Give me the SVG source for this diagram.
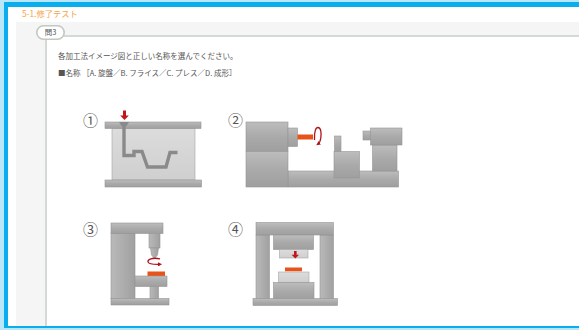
<svg xmlns="http://www.w3.org/2000/svg" width="579" height="330" viewBox="0 0 579 330">
  <style>
    .jp { font-family: "Noto Sans CJK JP", "Noto Sans", sans-serif; }
    .txt { fill: #555; font-size: 7.5px; }
    .num { fill: #555; font-size: 15px; }
    .metal { fill: url(#metalV); stroke: #959595; stroke-width: 0.6; }
    .metalH { fill: url(#metalH); stroke: #959595; stroke-width: 0.6; }
    .pale { fill: url(#paleV); stroke: #a5a5a5; stroke-width: 0.6; }
    .work { fill: #e8531a; }
    .red { fill: #c3151c; }
    .spin { fill: none; stroke: #b0141a; stroke-width: 1.3; }
  </style>
  <defs>
    <linearGradient id="metalV" x1="0" y1="0" x2="0" y2="1">
      <stop offset="0" stop-color="#bdbdbd"/>
      <stop offset="0.5" stop-color="#aaaaaa"/>
      <stop offset="1" stop-color="#9f9f9f"/>
    </linearGradient>
    <linearGradient id="metalH" x1="0" y1="0" x2="1" y2="0">
      <stop offset="0" stop-color="#b9b9b9"/>
      <stop offset="0.5" stop-color="#adadad"/>
      <stop offset="1" stop-color="#a0a0a0"/>
    </linearGradient>
    <linearGradient id="paleV" x1="0" y1="0" x2="0" y2="1">
      <stop offset="0" stop-color="#dcdcdc"/>
      <stop offset="1" stop-color="#cfcfcf"/>
    </linearGradient>
    <marker id="tip" viewBox="0 0 6 6" refX="3" refY="3" markerWidth="3.2" markerHeight="3.2" orient="auto">
      <path d="M0,0 L6,3 L0,6 Z" fill="#b0141a"/>
    </marker>
  </defs>

  <!-- page frame -->
  <rect x="0" y="0" width="579" height="330" fill="#b9e6f9"/>
  <rect x="4" y="2" width="575" height="326" fill="#0aaeef"/>
  <rect x="8" y="7" width="571" height="319" fill="#ffffff"/>

  <!-- heading -->
  <text class="jp" x="22" y="17" font-size="8.3" fill="#f7a446">5-1.修了テスト</text>

  <!-- question panel -->
  <g id="panel">
    <rect x="16" y="22" width="563" height="304" fill="#f5f5f5"/>
    <rect x="47" y="36" width="532" height="290" fill="#ffffff"/>
    <line x1="47" y1="36" x2="579" y2="36" stroke="#d5d9d5" stroke-width="2"/>
    <line x1="46" y1="36" x2="46" y2="326" stroke="#d5d9d5" stroke-width="2"/>
  </g>

  <g id="tab">
    <rect x="36.8" y="25.8" width="27.4" height="13.4" rx="6.7" fill="#ffffff" stroke="#c3c8c3" stroke-width="1.6"/>
    <text class="jp" x="50.5" y="35.2" font-size="7.4" fill="#555" text-anchor="middle">問3</text>
  </g>

  <g id="instructions">
    <text class="jp txt" x="58" y="58.5">各加工法イメージ図と正しい名称を選んでください。</text>
    <text class="jp txt" x="58" y="75.5">■名称 ［A. 旋盤／B. フライス／C. プレス／D. 成形］</text>
  </g>

  <!-- 1: moulding -->
  <g id="fig1">
    <text class="jp num" x="90.5" y="126" text-anchor="middle">①</text>
    <rect class="pale" x="112" y="128" width="83" height="52"/>
    <rect class="metal" x="105" y="122" width="96" height="6.5"/>
    <rect class="metal" x="105" y="180" width="96.5" height="7"/>
    <path d="M119,122 L129,122 L126.5,126 L121.5,126 Z" fill="#8a8a8a"/>
    <polyline points="124,125 124,155.5 134,155.5 134,151.5 142,151.5 147.5,167 166,167 170,152.5 177.5,152.5" fill="none" stroke="#8a8a8a" stroke-width="3.4"/>
    <rect class="red" x="123" y="110.5" width="3" height="5.5"/>
    <path class="red" d="M120.2,115.5 L128.8,115.5 L124.5,120 Z"/>
  </g>

  <!-- 2: lathe -->
  <g id="fig2">
    <text class="jp num" x="235.5" y="126" text-anchor="middle">②</text>
    <rect class="metal" x="288" y="171" width="110.5" height="16"/>
    <rect class="metal" x="246" y="122" width="42" height="29.5"/>
    <rect class="metal" x="246" y="151.5" width="42" height="35.5"/>
    <rect class="metal" x="288" y="128" width="9.5" height="18.5"/>
    <rect class="work" x="297.5" y="134.5" width="15.5" height="5"/>
    <path class="spin" d="M314.5,140 C314,131 316,127.5 318,127.5 C321,127.5 321.5,133 320.8,138 C320.4,141 319.5,143 318,144" marker-end="url(#tip)"/>
    <rect class="metal" x="334.5" y="136" width="6.5" height="16"/>
    <rect class="metal" x="334" y="151.5" width="25.5" height="26.5"/>
    <rect class="metal" x="372.5" y="145" width="24.5" height="26"/>
    <rect class="metal" x="370.5" y="128" width="31.5" height="17"/>
    <rect class="metal" x="363" y="131" width="7.5" height="9"/>
  </g>

  <!-- 3: milling -->
  <g id="fig3">
    <text class="jp num" x="90.5" y="235" text-anchor="middle">③</text>
    <rect class="metalH" x="111" y="233" width="24" height="66"/>
    <rect class="metal" x="111" y="223" width="52" height="10.5"/>
    <rect class="metalH" x="149" y="233.5" width="11" height="14.5"/>
    <path d="M150.5,248 L158.5,248 L157.5,255 L155.5,257.5 L153.5,257.5 L151.5,255 Z" fill="url(#metalH)" stroke="#959595" stroke-width="0.6"/>
    <path class="spin" d="M160,258.8 C152,257.2 147.5,259.5 148,261.8 C148.5,264 153,264.5 160,264.3" marker-end="url(#tip)"/>
    <rect class="work" x="147.5" y="271.5" width="17.5" height="4.5"/>
    <rect class="metalH" x="150" y="286.5" width="8.5" height="12.5"/>
    <rect class="metal" x="135" y="276" width="32" height="10.5"/>
    <rect class="metal" x="111" y="298.5" width="58" height="6.5"/>
  </g>

  <!-- 4: press -->
  <g id="fig4">
    <text class="jp num" x="235.5" y="235" text-anchor="middle">④</text>
    <rect class="metalH" x="256" y="235" width="13.5" height="64"/>
    <rect class="metalH" x="320" y="235" width="13.5" height="64"/>
    <rect class="metal" x="256" y="222.5" width="77.5" height="12.5"/>
    <rect class="metal" x="273.5" y="235" width="40" height="14.5"/>
    <rect class="pale" x="279.5" y="249.5" width="28.5" height="8.5"/>
    <rect class="red" x="294" y="251" width="2.6" height="4.2"/>
    <path class="red" d="M291.6,254.8 L299,254.8 L295.3,258.6 Z"/>
    <rect class="work" x="285" y="267.5" width="17" height="3.8"/>
    <rect class="pale" x="278.5" y="272" width="30.5" height="10.5"/>
    <rect class="metal" x="273.5" y="282.5" width="40.5" height="16.5"/>
    <rect class="metal" x="253" y="298.5" width="84.5" height="7"/>
  </g>
</svg>
